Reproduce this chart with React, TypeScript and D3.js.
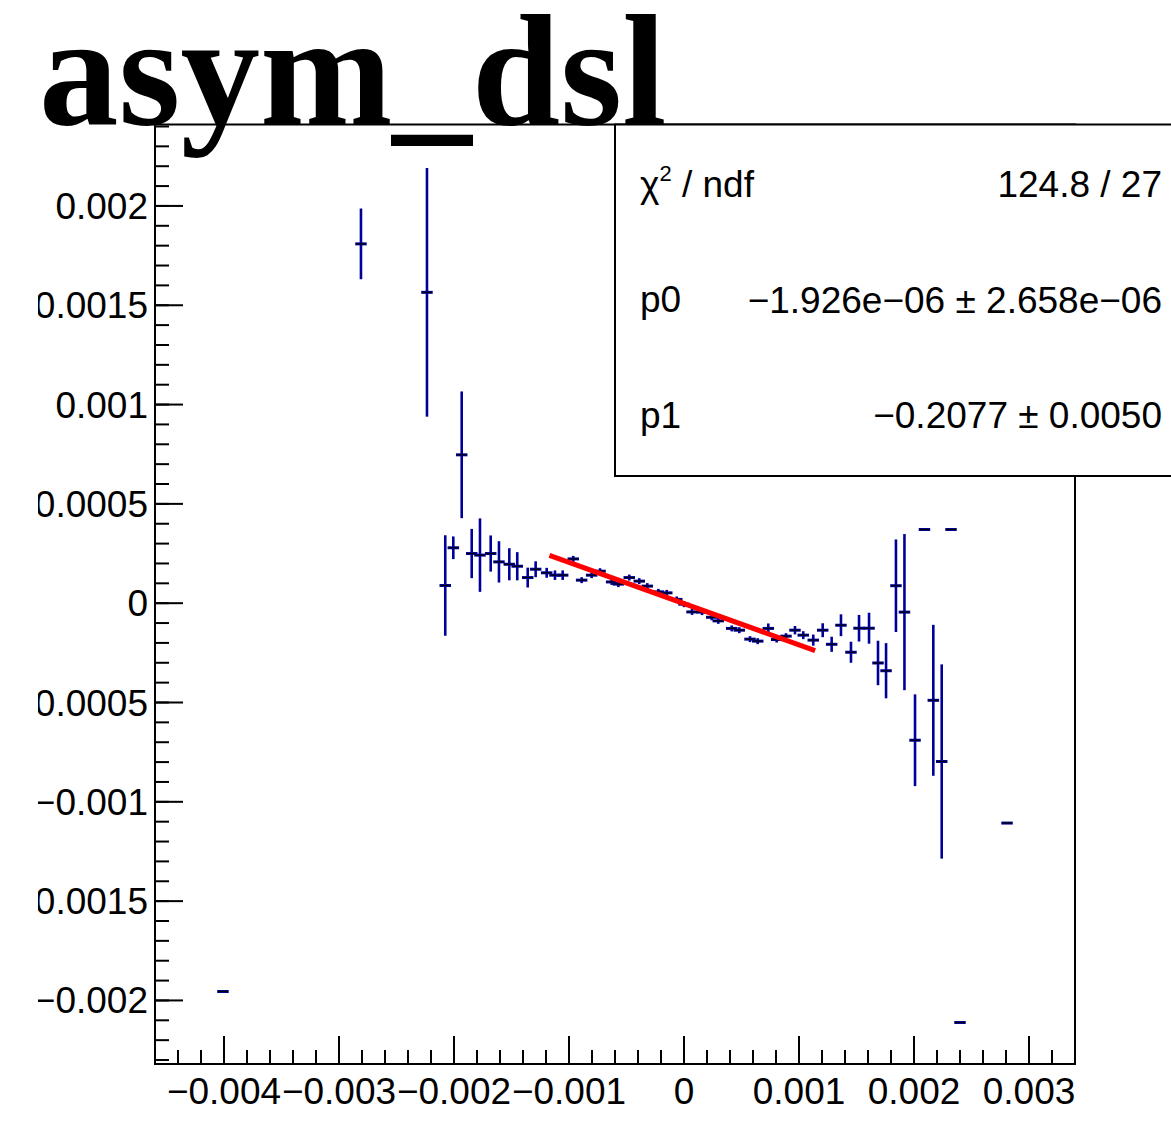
import * as d3 from 'd3'

const title = 'asym_dsl'

// points (x, y, vertical error)
const xVals = [
  -4.009e-3, -2.809e-3, -2.235e-3, -2.076e-3, -2.006e-3, -1.933e-3, -1.846e-3, -1.774e-3,
  -1.681e-3, -1.609e-3, -1.519e-3, -1.45e-3, -1.359e-3, -1.29e-3, -1.194e-3, -1.122e-3,
  -1.055e-3, -0.963e-3, -0.89e-3, -0.803e-3, -0.73e-3, -0.629e-3, -0.571e-3, -0.476e-3,
  -0.389e-3, -0.319e-3, -0.223e-3, -0.15e-3, -0.063e-3, 0.0, 0.07e-3, 0.157e-3,
  0.241e-3, 0.298e-3, 0.415e-3, 0.481e-3, 0.574e-3, 0.641e-3, 0.733e-3, 0.806e-3,
  0.887e-3, 0.965e-3, 1.037e-3, 1.124e-3, 1.206e-3, 1.284e-3, 1.365e-3, 1.452e-3,
  1.522e-3, 1.609e-3, 1.687e-3, 1.757e-3, 1.843e-3, 1.917e-3, 2.009e-3, 2.091e-3,
  2.168e-3, 2.241e-3, 2.322e-3, 2.4e-3, 2.809e-3,
]
const yVals = [
  -1.955e-3, 1.809e-3, 1.565e-3, 0.089e-3, 0.279e-3, 0.747e-3, 0.25e-3, 0.242e-3,
  0.25e-3, 0.208e-3, 0.196e-3, 0.186e-3, 0.129e-3, 0.171e-3, 0.153e-3, 0.141e-3,
  0.141e-3, 0.223e-3, 0.116e-3, 0.141e-3, 0.161e-3, 0.107e-3, 0.096e-3, 0.129e-3,
  0.111e-3, 0.086e-3, 0.057e-3, 0.052e-3, 0.019e-3, -0.005e-3, -0.044e-3, -0.045e-3,
  -0.071e-3, -0.089e-3, -0.127e-3, -0.136e-3, -0.181e-3, -0.191e-3, -0.127e-3, -0.183e-3,
  -0.166e-3, -0.136e-3, -0.161e-3, -0.186e-3, -0.136e-3, -0.207e-3, -0.111e-3, -0.247e-3,
  -0.126e-3, -0.126e-3, -0.301e-3, -0.34e-3, 0.088e-3, -0.045e-3, -0.69e-3, 0.371e-3,
  -0.489e-3, -0.797e-3, 0.371e-3, -2.111e-3, -1.107e-3,
]
const yErrs = [
  0, 0.178e-3, 0.626e-3, 0.253e-3, 0.057e-3, 0.319e-3, 0.124e-3, 0.185e-3,
  0.091e-3, 0.104e-3, 0.081e-3, 0.071e-3, 0.05e-3, 0.04e-3, 0.025e-3, 0.024e-3,
  0.024e-3, 0.015e-3, 0.015e-3, 0.015e-3, 0.015e-3, 0.015e-3, 0.015e-3, 0.015e-3,
  0.015e-3, 0.015e-3, 0.015e-3, 0.015e-3, 0.015e-3, 0.015e-3, 0.015e-3, 0.015e-3,
  0.015e-3, 0.015e-3, 0.015e-3, 0.015e-3, 0.015e-3, 0.015e-3, 0.025e-3, 0.015e-3,
  0.015e-3, 0.021e-3, 0.02e-3, 0.028e-3, 0.035e-3, 0.038e-3, 0.055e-3, 0.053e-3,
  0.067e-3, 0.078e-3, 0.112e-3, 0.139e-3, 0.233e-3, 0.393e-3, 0.231e-3, 0,
  0.38e-3, 0.489e-3, 0, 0, 0,
]
const xErr = 0.05e-3

// linear fit p0 + p1*x
const fitP0 = -1.926e-6
const fitP1 = -0.2077
const fitRange = [-1.17e-3, 1.14e-3]

const statLabels = ['p0', 'p1']
const statValues = ['124.8 / 27', '−1.926e−06 ± 2.658e−06', '−0.2077 ± 0.0050']

const xTicks = [-0.004, -0.003, -0.002, -0.001, 0, 0.001, 0.002, 0.003]
const yTicks = [-0.002, -0.0015, -0.001, -0.0005, 0, 0.0005, 0.001, 0.0015, 0.002]

const width = 1171
const height = 1121
const frame = { left: 155, right: 1075, top: 124.5, bottom: 1064 }
const font = 'Liberation Sans, Arial, Helvetica, sans-serif'

export default function App() {
  const x = d3.scaleLinear([-0.0046, 0.0034], [frame.left, frame.right])
  const y = d3.scaleLinear([-0.00232, 0.00241], [frame.bottom, frame.top])

  const xMinor = d3.range(-22, 18).map((i) => i * 0.0002)
  const yMinor = d3.range(-23, 25).map((i) => i * 0.0001)
  const fmt = d3.format('~g')

  const line = d3
    .line<number>()
    .x((d) => x(d))
    .y((d) => y(fitP0 + fitP1 * d))
  const fitXs = [fitRange[0], fitRange[1]]

  return (
    <svg
      width={width}
      height={height}
      style={{ position: 'absolute', left: 0, top: 0, background: 'white' }}
    >
      <defs>
        <clipPath id="lblclip">
          <rect x={38} y={0} width={width} height={height} />
        </clipPath>
      </defs>

      {/* error bars */}
      <g>
        {xVals.map((xv, i) => (
          <g key={i}>
            {yErrs[i] > 0 && (
              <line
                x1={x(xv)}
                x2={x(xv)}
                y1={y(yVals[i] - yErrs[i])}
                y2={y(yVals[i] + yErrs[i])}
                stroke="#000099"
                strokeWidth={2.6}
              />
            )}
            <line
              x1={x(xv - xErr)}
              x2={x(xv + xErr)}
              y1={y(yVals[i])}
              y2={y(yVals[i])}
              stroke="#000099"
              strokeWidth={3}
            />
            <line
              x1={x(xv - xErr) + 1}
              x2={x(xv + xErr) - 1}
              y1={y(yVals[i])}
              y2={y(yVals[i])}
              stroke="#000000"
              strokeWidth={1.2}
            />
          </g>
        ))}
      </g>

      {/* fit */}
      <path d={line(fitXs) ?? ''} fill="none" stroke="#ff0000" strokeWidth={5} />

      {/* frame */}
      <rect
        x={frame.left}
        y={frame.top}
        width={frame.right - frame.left}
        height={frame.bottom - frame.top}
        fill="none"
        stroke="black"
        strokeWidth={2}
      />

      {/* x axis ticks */}
      <g stroke="black" strokeWidth={2}>
        {xMinor.map((t, i) => (
          <line key={i} x1={x(t)} x2={x(t)} y1={frame.bottom} y2={frame.bottom - 14} />
        ))}
        {xTicks.map((t, i) => (
          <line key={'M' + i} x1={x(t)} x2={x(t)} y1={frame.bottom} y2={frame.bottom - 28} />
        ))}
      </g>
      <g fontFamily={font} fontSize={37} textAnchor="middle">
        {xTicks.map((t, i) => (
          <text key={i} x={x(t)} y={1104}>
            {fmt(t)}
          </text>
        ))}
      </g>

      {/* y axis ticks */}
      <g stroke="black" strokeWidth={2}>
        {yMinor.map((t, i) => (
          <line key={i} x1={frame.left} x2={frame.left + 14} y1={y(t)} y2={y(t)} />
        ))}
        {yTicks.map((t, i) => (
          <line key={'M' + i} x1={frame.left} x2={frame.left + 28} y1={y(t)} y2={y(t)} />
        ))}
      </g>
      <g fontFamily={font} fontSize={37} textAnchor="end" clipPath="url(#lblclip)">
        {yTicks.map((t, i) => (
          <text key={i} x={148} y={y(t) + 13}>
            {fmt(t)}
          </text>
        ))}
      </g>

      {/* stats box */}
      <rect x={615} y={124.5} width={600} height={351.5} fill="white" stroke="black" strokeWidth={2} />
      <g fontFamily={font} fontSize={37}>
        <text x={640} y={197}>
          <tspan>χ</tspan>
          <tspan fontSize={22} dy={-16}>
            2
          </tspan>
          <tspan dy={16}> / ndf</tspan>
        </text>
        {statLabels.map((s, i) => (
          <text key={s} x={640} y={312 + i * 116}>
            {s}
          </text>
        ))}
        {statValues.map((s, i) => (
          <text key={i} x={1162} y={197 + i * 115.5} textAnchor="end">
            {s}
          </text>
        ))}
      </g>

      {/* title, drawn over the frame */}
      <text
        x={39}
        y={124}
        fontFamily="Liberation Serif, Times New Roman, serif"
        fontWeight="bold"
        fontSize={159}
      >
        {title}
      </text>
    </svg>
  )
}
